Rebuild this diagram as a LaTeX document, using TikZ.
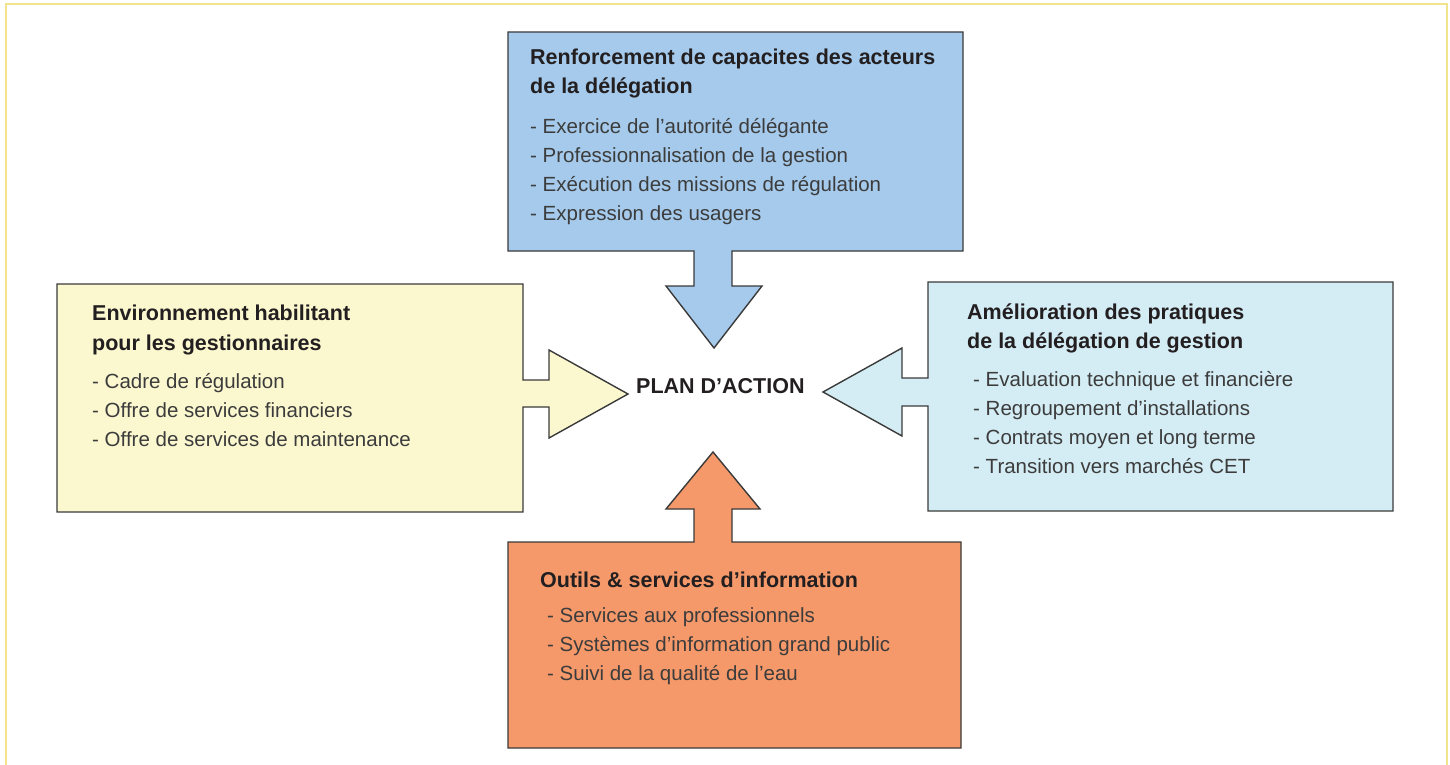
\documentclass[tikz,border=0pt]{standalone}
\usepackage{fontspec}
\setmainfont{Liberation Sans}
\definecolor{frameyellow}{HTML}{F2E38C}
\definecolor{edgegray}{HTML}{3A3A3A}
\definecolor{boxblue}{HTML}{A5CAEB}
\definecolor{boxcream}{HTML}{FBF8D0}
\definecolor{boxsky}{HTML}{D4ECF4}
\definecolor{boxorange}{HTML}{F5996A}
\definecolor{titleink}{HTML}{231F20}
\definecolor{itemink}{HTML}{3C3C3C}
\tikzset{
  panel/.style={draw=edgegray, line width=1.4pt, line join=miter},
  heading/.style={anchor=base west, inner sep=0pt, text=titleink,
    font=\fontsize{21.5}{29}\selectfont\bfseries},
  entry/.style={anchor=base west, inner sep=0pt, text=itemink,
    font=\fontsize{20.5}{29}\selectfont},
}
\begin{document}
\begin{tikzpicture}[x=1pt,y=-1pt]
\useasboundingbox (0,0) rectangle (1450,765);
% outer frame, open at the bottom
\draw[frameyellow, line width=2pt] (6,770) -- (6,4) -- (1447,4) -- (1447,770);

% top panel with arrow pointing down
\filldraw[panel, fill=boxblue] (508,32) -- (963,32) -- (963,251) -- (732,251)
  -- (732,286) -- (762,286) -- (714,348) -- (666,286) -- (694,286)
  -- (694,251) -- (508,251) -- cycle;
% left panel with arrow pointing right
\filldraw[panel, fill=boxcream] (57,284) -- (523,284) -- (523,380) -- (549,380)
  -- (549,350) -- (628,394) -- (549,438) -- (549,407) -- (523,407)
  -- (523,512) -- (57,512) -- cycle;
% right panel with arrow pointing left
\filldraw[panel, fill=boxsky] (1393,282) -- (928,282) -- (928,378) -- (902,378)
  -- (902,348) -- (823,392) -- (902,436) -- (902,406) -- (928,406)
  -- (928,511) -- (1393,511) -- cycle;
% bottom panel with arrow pointing up
\filldraw[panel, fill=boxorange] (508,748) -- (961,748) -- (961,542) -- (732,542)
  -- (732,509) -- (760,509) -- (713,452) -- (666,509) -- (694,509)
  -- (694,542) -- (508,542) -- cycle;

% centre label
\node[heading] (plan) at (636,393) {PLAN D’ACTION};

% top panel text
\node[heading] (topt1) at (530,65) {Renforcement de capacites des acteurs};
\node[heading] (topt2) at (530,94) {de la délégation};
\foreach \t [count=\i from 0] in {- Exercice de l’autorité délégante,
  - Professionnalisation de la gestion, - Exécution des missions de régulation,
  - Expression des usagers}
  \node[entry] (topi\i) at (530,133+29*\i) {\t};

% left panel text
\node[heading] (leftt1) at (92,320) {Environnement habilitant};
\node[heading] (leftt2) at (92,350) {pour les gestionnaires};
\foreach \t [count=\i from 0] in {- Cadre de régulation,
  - Offre de services financiers, - Offre de services de maintenance}
  \node[entry] (lefti\i) at (92,388+29*\i) {\t};

% right panel text
\node[heading] (rightt1) at (967,319) {Amélioration des pratiques};
\node[heading] (rightt2) at (967,348) {de la délégation de gestion};
\foreach \t [count=\i from 0] in {- Evaluation technique et financière,
  - Regroupement d’installations, - Contrats moyen et long terme,
  - Transition vers marchés CET}
  \node[entry] (righti\i) at (973,386+29*\i) {\t};

% bottom panel text
\node[heading] (bott1) at (540,587) {Outils \& services d’information};
\foreach \t [count=\i from 0] in {- Services aux professionnels,
  - Systèmes d’information grand public, - Suivi de la qualité de l’eau}
  \node[entry] (boti\i) at (547,622+29*\i) {\t};
\end{tikzpicture}
\end{document}
